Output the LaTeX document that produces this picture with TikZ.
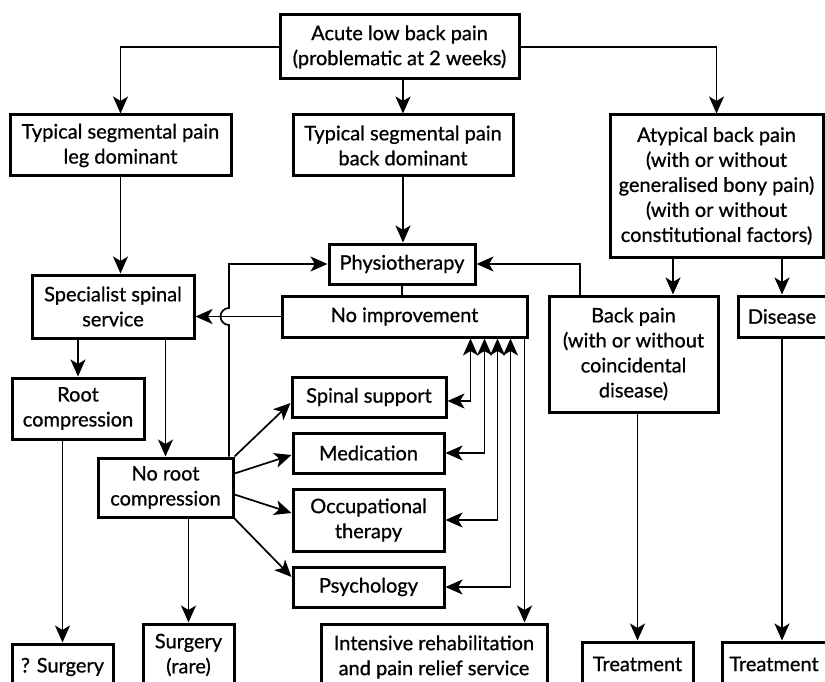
\documentclass[tikz,border=0pt]{standalone}
\usepackage{fontspec}
\setmainfont{Lato}[FakeBold=0.8]
\usetikzlibrary{arrows.meta}
\begin{document}
\begin{tikzpicture}[x=1pt,y=-1pt,
  box/.style={draw, line width=3pt, inner sep=0pt, align=center, font=\fontsize{20}{25}\selectfont},
  conn/.style={line width=1.7pt},
  tip/.tip={Stealth[length=17pt,width=15pt,inset=4.5pt]},
  arr/.style={conn, -tip},
  darr/.style={conn, tip-tip}]
\path[use as bounding box, clip] (0,0) rectangle (825,682);
\fill[white] (0,0) rectangle (825,682);
% boxes
\node[box, minimum width=239pt, minimum height=64pt] (top) at (399.5,47) {Acute low back pain\\(problematic at 2 weeks)};
\node[box, minimum width=221pt, minimum height=61pt] (leg) at (120.5,145.5) {Typical segmental pain\\leg dominant};
\node[box, minimum width=220pt, minimum height=61pt] (back) at (403,145.5) {Typical segmental pain\\back dominant};
\node[box, minimum width=213pt, minimum height=142pt] (atyp) at (716.5,186) {Atypical back pain\\(with or without\\generalised bony pain)\\(with or without\\constitutional factors)};
\node[box, minimum width=162pt, minimum height=63pt] (spec) at (113,306.5) {Specialist spinal\\service};
\node[box, minimum width=146pt, minimum height=40pt] (physio) at (402,264) {Physiotherapy};
\node[box, minimum width=245pt, minimum height=41pt] (noimp) at (404.5,316.5) {No improvement};
\node[box, minimum width=132pt, minimum height=61pt] (root) at (78,408.5) {Root\\compression};
\node[box, minimum width=135pt, minimum height=59pt] (noroot) at (165.5,487.5) {No root\\compression};
\node[box, minimum width=154pt, minimum height=40pt] (spinal) at (369,397) {Spinal support};
\node[box, minimum width=151pt, minimum height=40pt] (med) at (368.5,453) {Medication};
\node[box, minimum width=151pt, minimum height=62pt] (occ) at (368.5,520) {Occupational\\therapy};
\node[box, minimum width=151pt, minimum height=40pt] (psych) at (368.5,587) {Psychology};
\node[box, minimum width=169pt, minimum height=116pt] (bp) at (633.5,354) {Back pain\\(with or without\\coincidental\\disease)};
\node[box, minimum width=88pt, minimum height=41pt] (dis) at (782,316.5) {Disease};
\node[box, minimum width=101pt, minimum height=46pt] (qsurg) at (62.5,667) {? Surgery};
\node[box, minimum width=91pt, minimum height=62pt] (surg) at (188.5,655) {Surgery\\(rare)};
\node[box, minimum width=226pt, minimum height=66pt] (intens) at (434,657) {Intensive rehabilitation\\and pain relief service};
\node[box, minimum width=111pt, minimum height=44pt] (treat1) at (637.5,664) {Treatment};
\node[box, minimum width=104pt, minimum height=44pt] (treat2) at (774,664) {Treatment};
% connectors
\draw[arr] (top.west) -| (leg.north);
\draw[arr] (top.south -| back.north) -- (back.north);
\draw[arr] (top.east) -| (atyp.north);
\draw[arr] (leg.south) -- (leg.south |- spec.north);
\draw[arr] (back.south) -- (back.south |- physio.north);
\draw[conn] (physio.south) -- (physio.south |- noimp.north);
\coordinate (hop) at (229,316.5);
\draw[arr] (noimp.west) -- (noimp.west -| spec.east);
\draw[arr] (noroot.north -| hop) -- ([yshift=-8.5pt]hop) arc[start angle=270, end angle=90, radius=8.5pt] -- (hop |- physio.west) -- (physio.west);
\draw[arr] (root.north |- spec.south) -- (root.north);
\draw[arr] (noroot.north |- spec.south) -- (noroot.north);
\draw[arr] (root.south -| qsurg.north) -- (qsurg.north);
\draw[arr] (surg.north |- noroot.south) -- (surg.north);
\draw[arr] (noroot.north east) -- ([yshift=-6pt]spinal.west);
\draw[arr] ([yshift=14pt]noroot.east) -- ([yshift=-2pt]med.west);
\draw[arr] ([yshift=-7pt]noroot.east) -- ([yshift=7pt]occ.west);
\draw[arr] (noroot.south east) -- ([yshift=10pt]psych.west);
\draw[darr] ([yshift=-4pt]spinal.east) -| ([xshift=-58pt]noimp.south east);
\draw[darr] (med.east) -| ([xshift=-44pt]noimp.south east);
\draw[darr] (occ.east) -| ([xshift=-31pt]noimp.south east);
\draw[darr] (psych.east) -| ([xshift=-18pt]noimp.south east);
\draw[arr] ([xshift=-4pt]noimp.south east) -- ([xshift=-4pt]noimp.south east |- intens.north);
\draw[arr] ([xshift=-43.5pt]atyp.south) -- ([xshift=-43.5pt]atyp.south |- bp.north);
\draw[arr] (dis.north |- atyp.south) -- (dis.north);
\draw[arr] ([xshift=-53.5pt]bp.north) |- (physio.east);
\draw[arr] (treat1.north |- bp.south) -- (treat1.north);
\draw[arr] (dis.south) -- (dis.south |- treat2.north);
\end{tikzpicture}
\end{document}
